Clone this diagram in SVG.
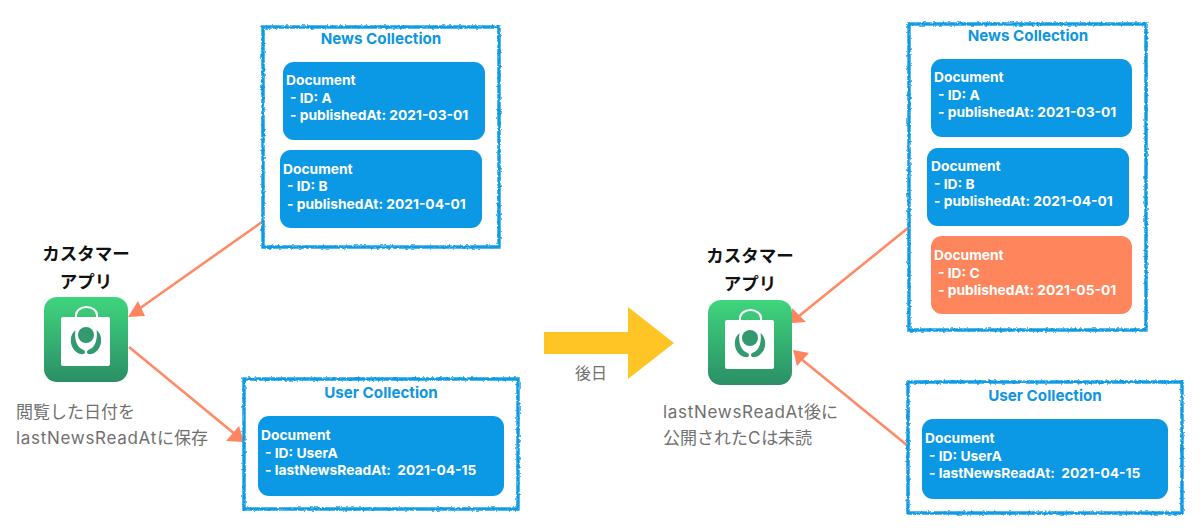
<svg xmlns="http://www.w3.org/2000/svg" width="1200" height="530" viewBox="0 0 1200 530">
<style>
text{font-family:Inter,"Noto Sans CJK JP",sans-serif}
.box{fill:#fff;stroke:#0f9be3;stroke-width:3.4;filter:url(#rough)}
.doc{fill:#0b98e4}
.alt{fill:#ff855c}
.title{fill:#0f96e0;font-size:15.200px;font-weight:700;text-anchor:middle}
.dt{fill:#fff;font-size:13.800px;font-weight:700}
.name{fill:#111;font-size:17.500px;font-weight:700;text-anchor:middle;font-family:"Noto Sans CJK JP",sans-serif}
.note{fill:#707070;font-size:17px;font-weight:400}
.lat{letter-spacing:.7px}
.line{stroke:#ff8a66;stroke-width:2.6;fill:none}
.head{fill:#ff8560}
</style>
<defs>
<filter id="rough" x="-5%" y="-5%" width="110%" height="110%">
<feTurbulence type="fractalNoise" baseFrequency="0.35" numOctaves="2" seed="4"/>
<feDisplacementMap in="SourceGraphic" scale="3.2" xChannelSelector="R" yChannelSelector="G"/>
</filter>
<linearGradient id="appg" x1="0" y1="0" x2="0" y2="1">
<stop offset="0" stop-color="#3fd57d"/><stop offset="1" stop-color="#2a8f66"/>
</linearGradient>
<symbol id="app" viewBox="0 0 84 85" width="84" height="85">
<rect width="84" height="85" rx="13" fill="url(#appg)"/>
<path d="M32 21V18a10.500 8 0 0 1 21 0V21" fill="none" stroke="#fff" stroke-width="2"/>
<rect x="17" y="20" width="49" height="49" rx="2" fill="#fff"/>
<circle cx="42" cy="38" r="8" fill="#33996f"/>
<path d="M31.500 33C25 38 25 50 33 55.500C36 57.500 41 58 41 55C41 52.500 37 52.500 35 50C31.500 46 30.500 39 31.500 33Z" fill="#33996f"/>
<path d="M52.500 33C59 38 59 50 51 55.500C48 57.500 43 58 43 55C43 52.500 47 52.500 49 50C52.500 46 53.500 39 52.500 33Z" fill="#33996f"/>
</symbol>
</defs>
<rect width="1200" height="530" fill="#fff"/>

<g id="connectors">
<line class="line" x1="262" y1="222" x2="136" y2="311"/>
<polygon class="head" points="128,317 138,301 145,316"/>
<line class="line" x1="129" y1="347" x2="236" y2="435"/>
<polygon class="head" points="244,442 226,441 239,426"/>
<line class="line" x1="908" y1="228" x2="799" y2="316"/>
<polygon class="head" points="792,323 792,308 806,322"/>
<line class="line" x1="908" y1="446" x2="800" y2="358"/>
<polygon class="head" points="793,350 809,353 797,366"/>
<polygon id="later-arrow" points="544,332 628,332 628,307 674,343 628,379 628,354 544,354" fill="#ffc524"/>
</g>

<g id="app-left">
<use href="#app" x="44" y="297"/>
<text class="name" x="86" y="260">カスタマー</text>
<text class="name" x="86" y="288">アプリ</text>
<text class="note" x="16" y="418">閲覧した日付を</text>
<text class="note" x="16" y="444"><tspan class="lat">lastNewsReadAt</tspan>に保存</text>
</g>

<g id="news-left">
<rect class="box" x="263" y="27" width="236" height="220"/>
<text class="title" x="381" y="44">News Collection</text>
<rect class="doc" x="283" y="62" width="202" height="78" rx="11"/>
<text class="dt" x="286" y="85">Document</text>
<text class="dt" x="290" y="103">- ID: A</text>
<text class="dt" x="290" y="120">- publishedAt: 2021-03-01</text>
<rect class="doc" x="280" y="150" width="202" height="78" rx="11"/>
<text class="dt" x="283" y="174">Document</text>
<text class="dt" x="287" y="191">- ID: B</text>
<text class="dt" x="287" y="209">- publishedAt: 2021-04-01</text>
</g>

<g id="user-left">
<rect class="box" x="244" y="379" width="274" height="130"/>
<text class="title" x="381" y="398">User Collection</text>
<rect class="doc" x="258" y="416" width="246" height="80" rx="11"/>
<text class="dt" x="261" y="440">Document</text>
<text class="dt" x="265" y="458">- ID: UserA</text>
<text class="dt" x="265" y="475" xml:space="preserve">- lastNewsReadAt:  2021-04-15</text>
</g>

<g id="later-label">
<text class="note" x="591" y="379" text-anchor="middle" style="font-size:16px">後日</text>
</g>

<g id="app-right">
<use href="#app" x="708" y="300"/>
<text class="name" x="750" y="262">カスタマー</text>
<text class="name" x="750" y="290">アプリ</text>
<text class="note" x="663" y="418"><tspan class="lat">lastNewsReadAt</tspan>後に</text>
<text class="note" x="663" y="444">公開された<tspan class="lat">C</tspan>は未読</text>
</g>

<g id="news-right">
<rect class="box" x="909" y="24" width="237" height="306"/>
<text class="title" x="1028" y="41">News Collection</text>
<rect class="doc" x="931" y="59" width="201" height="78" rx="11"/>
<text class="dt" x="934" y="82">Document</text>
<text class="dt" x="938" y="100">- ID: A</text>
<text class="dt" x="938" y="117">- publishedAt: 2021-03-01</text>
<rect class="doc" x="927" y="148" width="202" height="78" rx="11"/>
<text class="dt" x="931" y="171">Document</text>
<text class="dt" x="934" y="189">- ID: B</text>
<text class="dt" x="934" y="206">- publishedAt: 2021-04-01</text>
<rect class="alt" x="931" y="236" width="201" height="78" rx="11"/>
<text class="dt" x="934" y="260">Document</text>
<text class="dt" x="938" y="278">- ID: C</text>
<text class="dt" x="938" y="295">- publishedAt: 2021-05-01</text>
</g>

<g id="user-right">
<rect class="box" x="908" y="382" width="274" height="131"/>
<text class="title" x="1045" y="401">User Collection</text>
<rect class="doc" x="922" y="419" width="246" height="80" rx="11"/>
<text class="dt" x="925" y="443">Document</text>
<text class="dt" x="929" y="461">- ID: UserA</text>
<text class="dt" x="929" y="478" xml:space="preserve">- lastNewsReadAt:  2021-04-15</text>
</g>
</svg>
